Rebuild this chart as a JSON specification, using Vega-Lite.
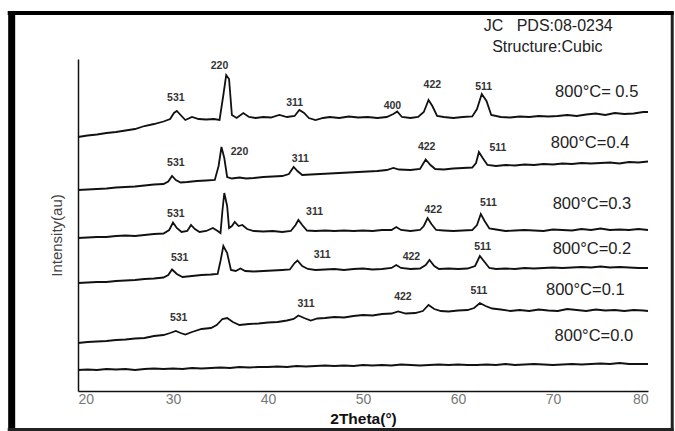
{
"$schema": "https://vega.github.io/schema/vega-lite/v6.json",
"width": 570, "height": 332,
"autosize": "none",
"padding": {"left": 78, "top": 59, "right": 27, "bottom": 40},
"background": "white",
"config": {"view": {"stroke": null}, "font": "Liberation Sans"},
"datasets": {
"curves": [
{"s":"0.0","x":20,"y":21},{"s":"0.0","x":21,"y":21.5},{"s":"0.0","x":22,"y":21},{"s":"0.0","x":23,"y":22},{"s":"0.0","x":24,"y":21.5},{"s":"0.0","x":25,"y":22},{"s":"0.0","x":26,"y":21},{"s":"0.0","x":27,"y":22},{"s":"0.0","x":28,"y":22.5},{"s":"0.0","x":29,"y":22},{"s":"0.0","x":30,"y":22.5},{"s":"0.0","x":31,"y":22},{"s":"0.0","x":32,"y":23},{"s":"0.0","x":33,"y":22.5},{"s":"0.0","x":34,"y":23},{"s":"0.0","x":35,"y":23.5},{"s":"0.0","x":36,"y":23},{"s":"0.0","x":37,"y":24},{"s":"0.0","x":38,"y":23.5},{"s":"0.0","x":39,"y":24},{"s":"0.0","x":40,"y":24},{"s":"0.0","x":41,"y":24.5},{"s":"0.0","x":42,"y":24},{"s":"0.0","x":43,"y":25},{"s":"0.0","x":44,"y":24.5},{"s":"0.0","x":45,"y":25},{"s":"0.0","x":46,"y":25.5},{"s":"0.0","x":47,"y":25},{"s":"0.0","x":48,"y":25.5},{"s":"0.0","x":49,"y":25},{"s":"0.0","x":50,"y":26},{"s":"0.0","x":51,"y":25.5},{"s":"0.0","x":52,"y":26},{"s":"0.0","x":53,"y":25.5},{"s":"0.0","x":54,"y":26.5},{"s":"0.0","x":55,"y":26},{"s":"0.0","x":56,"y":25.5},{"s":"0.0","x":57,"y":26},{"s":"0.0","x":58,"y":26.5},{"s":"0.0","x":59,"y":26},{"s":"0.0","x":60,"y":26.5},{"s":"0.0","x":61,"y":26},{"s":"0.0","x":62,"y":26},{"s":"0.0","x":63,"y":26.5},{"s":"0.0","x":64,"y":26},{"s":"0.0","x":65,"y":27},{"s":"0.0","x":66,"y":26},{"s":"0.0","x":67,"y":26.5},{"s":"0.0","x":68,"y":27},{"s":"0.0","x":69,"y":26.5},{"s":"0.0","x":70,"y":26},{"s":"0.0","x":71,"y":26.5},{"s":"0.0","x":72,"y":27},{"s":"0.0","x":73,"y":26.5},{"s":"0.0","x":74,"y":27},{"s":"0.0","x":75,"y":27.5},{"s":"0.0","x":76,"y":27},{"s":"0.0","x":77,"y":28},{"s":"0.0","x":78,"y":27},{"s":"0.0","x":79,"y":27},{"s":"0.0","x":80,"y":27},
{"s":"0.1","x":20,"y":48},{"s":"0.1","x":21,"y":49},{"s":"0.1","x":22,"y":49.5},{"s":"0.1","x":23,"y":50},{"s":"0.1","x":24,"y":51},{"s":"0.1","x":25,"y":51.5},{"s":"0.1","x":26,"y":52.5},{"s":"0.1","x":27,"y":53},{"s":"0.1","x":28,"y":55},{"s":"0.1","x":29,"y":56},{"s":"0.1","x":29.7,"y":58},{"s":"0.1","x":30.3,"y":60},{"s":"0.1","x":30.8,"y":58},{"s":"0.1","x":31.3,"y":56.5},{"s":"0.1","x":32,"y":59},{"s":"0.1","x":33,"y":62},{"s":"0.1","x":34,"y":63},{"s":"0.1","x":34.6,"y":66},{"s":"0.1","x":35.2,"y":72},{"s":"0.1","x":35.7,"y":73},{"s":"0.1","x":36.3,"y":69},{"s":"0.1","x":37,"y":66},{"s":"0.1","x":38,"y":67},{"s":"0.1","x":39,"y":67.5},{"s":"0.1","x":40,"y":68.5},{"s":"0.1","x":41,"y":69},{"s":"0.1","x":42,"y":70.5},{"s":"0.1","x":42.7,"y":72},{"s":"0.1","x":43.2,"y":75.5},{"s":"0.1","x":43.8,"y":73},{"s":"0.1","x":44.5,"y":70.5},{"s":"0.1","x":45.2,"y":72.5},{"s":"0.1","x":46,"y":73},{"s":"0.1","x":47,"y":74},{"s":"0.1","x":48,"y":73.5},{"s":"0.1","x":49,"y":75},{"s":"0.1","x":50,"y":76},{"s":"0.1","x":51,"y":75.5},{"s":"0.1","x":52,"y":77},{"s":"0.1","x":53,"y":77.5},{"s":"0.1","x":53.7,"y":79.5},{"s":"0.1","x":54.5,"y":77.5},{"s":"0.1","x":55.5,"y":78},{"s":"0.1","x":56.3,"y":80},{"s":"0.1","x":56.9,"y":86},{"s":"0.1","x":57.5,"y":82},{"s":"0.1","x":58.2,"y":80},{"s":"0.1","x":59,"y":79.5},{"s":"0.1","x":60,"y":80.5},{"s":"0.1","x":61,"y":81},{"s":"0.1","x":61.7,"y":83},{"s":"0.1","x":62.3,"y":88},{"s":"0.1","x":62.9,"y":85},{"s":"0.1","x":63.6,"y":82.5},{"s":"0.1","x":64.5,"y":81.5},{"s":"0.1","x":65.5,"y":80},{"s":"0.1","x":66.5,"y":81},{"s":"0.1","x":67.5,"y":80},{"s":"0.1","x":68.5,"y":81.5},{"s":"0.1","x":69.5,"y":80.5},{"s":"0.1","x":70.5,"y":80},{"s":"0.1","x":71.5,"y":82},{"s":"0.1","x":72.5,"y":81},{"s":"0.1","x":73.5,"y":80},{"s":"0.1","x":74.5,"y":81.5},{"s":"0.1","x":75.5,"y":80.5},{"s":"0.1","x":76.5,"y":81},{"s":"0.1","x":77.5,"y":80},{"s":"0.1","x":78.5,"y":81},{"s":"0.1","x":79.5,"y":80.5},{"s":"0.1","x":80,"y":80},
{"s":"0.2","x":20,"y":108},{"s":"0.2","x":21,"y":108.5},{"s":"0.2","x":22,"y":109},{"s":"0.2","x":23,"y":109},{"s":"0.2","x":24,"y":110},{"s":"0.2","x":25,"y":110.5},{"s":"0.2","x":26,"y":111},{"s":"0.2","x":27,"y":112},{"s":"0.2","x":28,"y":112.5},{"s":"0.2","x":29,"y":113.5},{"s":"0.2","x":29.5,"y":116},{"s":"0.2","x":29.9,"y":121.5},{"s":"0.2","x":30.4,"y":117},{"s":"0.2","x":31,"y":114},{"s":"0.2","x":32,"y":115},{"s":"0.2","x":33,"y":116},{"s":"0.2","x":34,"y":116.5},{"s":"0.2","x":34.7,"y":117},{"s":"0.2","x":35.0,"y":130},{"s":"0.2","x":35.3,"y":145},{"s":"0.2","x":35.7,"y":138},{"s":"0.2","x":36.1,"y":121},{"s":"0.2","x":36.6,"y":120},{"s":"0.2","x":37.1,"y":122.5},{"s":"0.2","x":37.6,"y":120},{"s":"0.2","x":38.5,"y":119.5},{"s":"0.2","x":39.5,"y":120},{"s":"0.2","x":40.5,"y":120.5},{"s":"0.2","x":41.5,"y":121},{"s":"0.2","x":42.3,"y":121.5},{"s":"0.2","x":42.8,"y":128},{"s":"0.2","x":43.1,"y":130.5},{"s":"0.2","x":43.6,"y":125},{"s":"0.2","x":44.2,"y":122},{"s":"0.2","x":45,"y":121},{"s":"0.2","x":46,"y":121.5},{"s":"0.2","x":47,"y":122},{"s":"0.2","x":48,"y":121},{"s":"0.2","x":49,"y":122},{"s":"0.2","x":50,"y":122.5},{"s":"0.2","x":51,"y":121.5},{"s":"0.2","x":52,"y":122},{"s":"0.2","x":53,"y":123},{"s":"0.2","x":53.5,"y":126},{"s":"0.2","x":54,"y":123},{"s":"0.2","x":55,"y":122},{"s":"0.2","x":56,"y":122.5},{"s":"0.2","x":56.6,"y":126},{"s":"0.2","x":57,"y":131},{"s":"0.2","x":57.5,"y":125},{"s":"0.2","x":58,"y":122},{"s":"0.2","x":59,"y":122.5},{"s":"0.2","x":60,"y":122},{"s":"0.2","x":61,"y":122.5},{"s":"0.2","x":61.8,"y":125},{"s":"0.2","x":62.3,"y":135},{"s":"0.2","x":62.8,"y":129},{"s":"0.2","x":63.3,"y":123},{"s":"0.2","x":64,"y":122},{"s":"0.2","x":65,"y":122.5},{"s":"0.2","x":66,"y":122},{"s":"0.2","x":67,"y":123},{"s":"0.2","x":68,"y":122.5},{"s":"0.2","x":69,"y":123},{"s":"0.2","x":70,"y":123.5},{"s":"0.2","x":71,"y":123},{"s":"0.2","x":72,"y":123.5},{"s":"0.2","x":73,"y":124},{"s":"0.2","x":74,"y":123.5},{"s":"0.2","x":75,"y":124.5},{"s":"0.2","x":76,"y":123.5},{"s":"0.2","x":77,"y":124},{"s":"0.2","x":78,"y":123.5},{"s":"0.2","x":79,"y":123},{"s":"0.2","x":80,"y":123},
{"s":"0.3","x":20,"y":153},{"s":"0.3","x":21,"y":153.5},{"s":"0.3","x":22,"y":154},{"s":"0.3","x":23,"y":154},{"s":"0.3","x":24,"y":155},{"s":"0.3","x":25,"y":155.5},{"s":"0.3","x":26,"y":155},{"s":"0.3","x":27,"y":156},{"s":"0.3","x":28,"y":157},{"s":"0.3","x":29,"y":157.5},{"s":"0.3","x":29.6,"y":161},{"s":"0.3","x":30,"y":168.5},{"s":"0.3","x":30.4,"y":163},{"s":"0.3","x":30.9,"y":159},{"s":"0.3","x":31.5,"y":160},{"s":"0.3","x":31.9,"y":166},{"s":"0.3","x":32.3,"y":162},{"s":"0.3","x":32.8,"y":159},{"s":"0.3","x":33.5,"y":160},{"s":"0.3","x":34.2,"y":163},{"s":"0.3","x":34.7,"y":160},{"s":"0.3","x":35.0,"y":158},{"s":"0.3","x":35.2,"y":180},{"s":"0.3","x":35.4,"y":198},{"s":"0.3","x":35.7,"y":185},{"s":"0.3","x":35.9,"y":163},{"s":"0.3","x":36.2,"y":165},{"s":"0.3","x":36.5,"y":169},{"s":"0.3","x":36.9,"y":165},{"s":"0.3","x":37.3,"y":166},{"s":"0.3","x":37.8,"y":162},{"s":"0.3","x":38.5,"y":160},{"s":"0.3","x":39.5,"y":159.5},{"s":"0.3","x":40.5,"y":160},{"s":"0.3","x":41.5,"y":159},{"s":"0.3","x":42.4,"y":160},{"s":"0.3","x":42.9,"y":166},{"s":"0.3","x":43.2,"y":171},{"s":"0.3","x":43.6,"y":166},{"s":"0.3","x":44.1,"y":160.5},{"s":"0.3","x":45,"y":160},{"s":"0.3","x":46,"y":160.5},{"s":"0.3","x":47,"y":160},{"s":"0.3","x":48,"y":160.5},{"s":"0.3","x":49,"y":160},{"s":"0.3","x":50,"y":160.5},{"s":"0.3","x":51,"y":160},{"s":"0.3","x":52,"y":161},{"s":"0.3","x":53,"y":161},{"s":"0.3","x":53.5,"y":164},{"s":"0.3","x":54,"y":161},{"s":"0.3","x":55,"y":160},{"s":"0.3","x":56,"y":161},{"s":"0.3","x":56.4,"y":165},{"s":"0.3","x":56.8,"y":173},{"s":"0.3","x":57.2,"y":167},{"s":"0.3","x":57.7,"y":161},{"s":"0.3","x":58.5,"y":160.5},{"s":"0.3","x":59.5,"y":160},{"s":"0.3","x":60.5,"y":160.5},{"s":"0.3","x":61.5,"y":161},{"s":"0.3","x":62,"y":166},{"s":"0.3","x":62.4,"y":177},{"s":"0.3","x":62.8,"y":170},{"s":"0.3","x":63.3,"y":162.5},{"s":"0.3","x":64,"y":161.5},{"s":"0.3","x":65,"y":160},{"s":"0.3","x":66,"y":160.5},{"s":"0.3","x":67,"y":161},{"s":"0.3","x":68,"y":160.5},{"s":"0.3","x":69,"y":160},{"s":"0.3","x":70,"y":161.5},{"s":"0.3","x":71,"y":161},{"s":"0.3","x":72,"y":160.5},{"s":"0.3","x":73,"y":162},{"s":"0.3","x":74,"y":161},{"s":"0.3","x":75,"y":162.5},{"s":"0.3","x":76,"y":161},{"s":"0.3","x":77,"y":161.5},{"s":"0.3","x":78,"y":161},{"s":"0.3","x":79,"y":162},{"s":"0.3","x":80,"y":161},
{"s":"0.4","x":20,"y":201},{"s":"0.4","x":21,"y":201.5},{"s":"0.4","x":22,"y":202},{"s":"0.4","x":23,"y":202.5},{"s":"0.4","x":24,"y":203.5},{"s":"0.4","x":25,"y":204},{"s":"0.4","x":26,"y":204.5},{"s":"0.4","x":27,"y":205.5},{"s":"0.4","x":28,"y":206.5},{"s":"0.4","x":29,"y":207},{"s":"0.4","x":29.5,"y":209.5},{"s":"0.4","x":29.9,"y":215},{"s":"0.4","x":30.3,"y":211},{"s":"0.4","x":30.8,"y":208.5},{"s":"0.4","x":31.5,"y":209},{"s":"0.4","x":32.5,"y":210},{"s":"0.4","x":33.5,"y":210.5},{"s":"0.4","x":34.4,"y":211},{"s":"0.4","x":34.8,"y":225},{"s":"0.4","x":35.1,"y":244},{"s":"0.4","x":35.4,"y":233},{"s":"0.4","x":35.7,"y":214},{"s":"0.4","x":36.2,"y":212.5},{"s":"0.4","x":37,"y":213.5},{"s":"0.4","x":37.7,"y":212.5},{"s":"0.4","x":38.5,"y":213},{"s":"0.4","x":39.5,"y":214},{"s":"0.4","x":40.5,"y":214.5},{"s":"0.4","x":41.5,"y":215},{"s":"0.4","x":42.2,"y":217},{"s":"0.4","x":42.7,"y":224},{"s":"0.4","x":43.1,"y":220},{"s":"0.4","x":43.6,"y":216},{"s":"0.4","x":44.5,"y":216.5},{"s":"0.4","x":45.5,"y":217},{"s":"0.4","x":46.5,"y":217.5},{"s":"0.4","x":47.5,"y":218},{"s":"0.4","x":48.5,"y":218.5},{"s":"0.4","x":49.5,"y":219},{"s":"0.4","x":50.5,"y":219.5},{"s":"0.4","x":51.5,"y":220},{"s":"0.4","x":52.5,"y":221},{"s":"0.4","x":53.2,"y":223},{"s":"0.4","x":53.8,"y":221.5},{"s":"0.4","x":55,"y":221},{"s":"0.4","x":56,"y":222},{"s":"0.4","x":56.6,"y":231.5},{"s":"0.4","x":57.1,"y":226},{"s":"0.4","x":57.6,"y":222},{"s":"0.4","x":58.5,"y":221.5},{"s":"0.4","x":59.5,"y":222.5},{"s":"0.4","x":60.5,"y":223},{"s":"0.4","x":61.5,"y":223.5},{"s":"0.4","x":61.9,"y":228},{"s":"0.4","x":62.2,"y":239},{"s":"0.4","x":62.6,"y":233},{"s":"0.4","x":63.1,"y":226},{"s":"0.4","x":64,"y":225},{"s":"0.4","x":65,"y":226},{"s":"0.4","x":66,"y":225.5},{"s":"0.4","x":67,"y":226.5},{"s":"0.4","x":68,"y":226},{"s":"0.4","x":69,"y":227},{"s":"0.4","x":70,"y":226.5},{"s":"0.4","x":71,"y":227.5},{"s":"0.4","x":72,"y":227},{"s":"0.4","x":73,"y":228},{"s":"0.4","x":74,"y":227.5},{"s":"0.4","x":75,"y":228},{"s":"0.4","x":76,"y":228.5},{"s":"0.4","x":77,"y":227.5},{"s":"0.4","x":78,"y":229},{"s":"0.4","x":79,"y":228.5},{"s":"0.4","x":80,"y":229.5},
{"s":"0.5","x":20,"y":254},{"s":"0.5","x":21,"y":255.5},{"s":"0.5","x":22,"y":256.5},{"s":"0.5","x":23,"y":258},{"s":"0.5","x":24,"y":259},{"s":"0.5","x":25,"y":260.5},{"s":"0.5","x":26,"y":262},{"s":"0.5","x":27,"y":265},{"s":"0.5","x":28,"y":267},{"s":"0.5","x":29,"y":269.5},{"s":"0.5","x":29.7,"y":272},{"s":"0.5","x":30.1,"y":278},{"s":"0.5","x":30.4,"y":280},{"s":"0.5","x":30.8,"y":276},{"s":"0.5","x":31.3,"y":271},{"s":"0.5","x":32,"y":274},{"s":"0.5","x":32.7,"y":272},{"s":"0.5","x":33.5,"y":271.5},{"s":"0.5","x":34.3,"y":272},{"s":"0.5","x":34.9,"y":271},{"s":"0.5","x":35.3,"y":296},{"s":"0.5","x":35.6,"y":316},{"s":"0.5","x":35.9,"y":312},{"s":"0.5","x":36.2,"y":276},{"s":"0.5","x":36.7,"y":273},{"s":"0.5","x":37.4,"y":278},{"s":"0.5","x":38,"y":274},{"s":"0.5","x":38.7,"y":273},{"s":"0.5","x":39.5,"y":274},{"s":"0.5","x":40.3,"y":273.5},{"s":"0.5","x":41.2,"y":276},{"s":"0.5","x":42,"y":274},{"s":"0.5","x":42.8,"y":275},{"s":"0.5","x":43.3,"y":281},{"s":"0.5","x":43.8,"y":278},{"s":"0.5","x":44.3,"y":273},{"s":"0.5","x":45,"y":271},{"s":"0.5","x":45.8,"y":273},{"s":"0.5","x":46.5,"y":274},{"s":"0.5","x":47.5,"y":273},{"s":"0.5","x":48.5,"y":274.5},{"s":"0.5","x":49.5,"y":273.5},{"s":"0.5","x":50.5,"y":274},{"s":"0.5","x":51.5,"y":273},{"s":"0.5","x":52.5,"y":274},{"s":"0.5","x":53.2,"y":277},{"s":"0.5","x":53.6,"y":279.5},{"s":"0.5","x":54.1,"y":274},{"s":"0.5","x":55,"y":273},{"s":"0.5","x":55.8,"y":274},{"s":"0.5","x":56.4,"y":279},{"s":"0.5","x":56.9,"y":291},{"s":"0.5","x":57.3,"y":285},{"s":"0.5","x":57.8,"y":275},{"s":"0.5","x":58.5,"y":274},{"s":"0.5","x":59.5,"y":273},{"s":"0.5","x":60.5,"y":274},{"s":"0.5","x":61.5,"y":274.5},{"s":"0.5","x":62,"y":282},{"s":"0.5","x":62.5,"y":297},{"s":"0.5","x":63,"y":290},{"s":"0.5","x":63.5,"y":276},{"s":"0.5","x":64.5,"y":274},{"s":"0.5","x":65.5,"y":273.5},{"s":"0.5","x":66.5,"y":274.5},{"s":"0.5","x":67.5,"y":274},{"s":"0.5","x":68.5,"y":275},{"s":"0.5","x":69.5,"y":274.5},{"s":"0.5","x":70.5,"y":275},{"s":"0.5","x":71.5,"y":276},{"s":"0.5","x":72.5,"y":275},{"s":"0.5","x":73.5,"y":276.5},{"s":"0.5","x":74.5,"y":277.5},{"s":"0.5","x":75.5,"y":276},{"s":"0.5","x":76.5,"y":278},{"s":"0.5","x":77.5,"y":277},{"s":"0.5","x":78.5,"y":277.5},{"s":"0.5","x":79.5,"y":279},{"s":"0.5","x":80,"y":279}
],
"peaks": [
{"t":"531","x":30.3,"y":293},{"t":"220","x":34.9,"y":325},{"t":"311","x":42.8,"y":288},{"t":"400","x":53.1,"y":285},{"t":"422","x":57.3,"y":306},{"t":"511","x":62.7,"y":304},
{"t":"531","x":30.3,"y":228},{"t":"220","x":37.0,"y":239},{"t":"311","x":43.4,"y":232},{"t":"422","x":56.7,"y":244},{"t":"511","x":64.2,"y":243},
{"t":"531","x":30.3,"y":177},{"t":"311","x":44.9,"y":179},{"t":"422","x":57.4,"y":181},{"t":"511","x":63.2,"y":188},
{"t":"531","x":30.7,"y":133},{"t":"311","x":45.7,"y":136},{"t":"422","x":55.1,"y":134},{"t":"511","x":62.6,"y":144},
{"t":"531","x":30.6,"y":73},{"t":"311","x":44.0,"y":87},{"t":"422","x":54.2,"y":94},{"t":"511","x":62.2,"y":100}
],
"series": [
{"t":"800°C= 0.5","x":74.6,"y":299},{"t":"800°C=0.4","x":73.9,"y":248},{"t":"800°C=0.3","x":74.1,"y":187},{"t":"800°C=0.2","x":74.1,"y":142},{"t":"800°C=0.1","x":73.4,"y":101},{"t":"800°C=0.0","x":74.3,"y":55}
],
"header": [
{"t":"JC\u00a0\u00a0\u00a0PDS:08-0234","x":69.5,"y":365},{"t":"Structure:Cubic","x":69.4,"y":344}
]
},
"layer": [
{
"data": {"name": "curves"},
"mark": {"type": "line", "color": "#111", "strokeWidth": 1.8, "interpolate": "linear"},
"encoding": {
"x": {"field": "x", "type": "quantitative", "scale": {"domain": [20, 80], "nice": false, "zero": false},
"axis": {"values": [20,30,40,50,60,70,80], "ticks": false, "grid": false, "domainColor": "#111", "domainWidth": 1.5, "labelColor": "#777", "labelFontSize": 14, "labelPadding": 1, "title": "2Theta(°)", "titleFontSize": 15.5, "titleFontWeight": "bold", "titleColor": "#111", "titlePadding": 5}},
"y": {"field": "y", "type": "quantitative", "scale": {"domain": [0, 332], "nice": false, "zero": false},
"axis": {"labels": false, "ticks": false, "grid": false, "domainColor": "#111", "domainWidth": 1.5, "title": "Intensity(au)", "titleFontSize": 15, "titleFontWeight": "normal", "titleColor": "#444", "titleX": -14, "titleY": 176}},
"detail": {"field": "s"},
"order": {"field": "x", "type": "quantitative"}
}
},
{
"data": {"name": "peaks"},
"mark": {"type": "text", "fontSize": 10.5, "fontWeight": "bold", "color": "#333", "align": "center", "baseline": "middle"},
"encoding": {"x": {"field": "x", "type": "quantitative"}, "y": {"field": "y", "type": "quantitative"}, "text": {"field": "t"}}
},
{
"data": {"name": "series"},
"mark": {"type": "text", "fontSize": 16.5, "color": "#222", "align": "center", "baseline": "middle"},
"encoding": {"x": {"field": "x", "type": "quantitative"}, "y": {"field": "y", "type": "quantitative"}, "text": {"field": "t"}}
},
{
"data": {"name": "header"},
"mark": {"type": "text", "fontSize": 16, "color": "#222", "align": "center", "baseline": "middle"},
"encoding": {"x": {"field": "x", "type": "quantitative"}, "y": {"field": "y", "type": "quantitative"}, "text": {"field": "t"}}
},
{
"data": {"values": [{"x": 13.02, "y": 380, "y2": -40}]},
"mark": {"type": "rule", "color": "black", "strokeWidth": 7},
"encoding": {"x": {"field": "x", "type": "quantitative"}, "y": {"field": "y", "type": "quantitative"}, "y2": {"field": "y2"}}
},
{
"data": {"values": [{"x": 82.55, "y": 380, "y2": -40}]},
"mark": {"type": "rule", "color": "#222", "strokeWidth": 3},
"encoding": {"x": {"field": "x", "type": "quantitative"}, "y": {"field": "y", "type": "quantitative"}, "y2": {"field": "y2"}}
},
{
"data": {"values": [{"x": 12.6, "x2": 82.7, "y": 378}]},
"mark": {"type": "rule", "color": "black", "strokeWidth": 4},
"encoding": {"x": {"field": "x", "type": "quantitative"}, "x2": {"field": "x2"}, "y": {"field": "y", "type": "quantitative"}}
},
{
"data": {"values": [{"x": 12.6, "x2": 82.7, "y": -38.5}]},
"mark": {"type": "rule", "color": "#222", "strokeWidth": 3},
"encoding": {"x": {"field": "x", "type": "quantitative"}, "x2": {"field": "x2"}, "y": {"field": "y", "type": "quantitative"}}
}
]
}
